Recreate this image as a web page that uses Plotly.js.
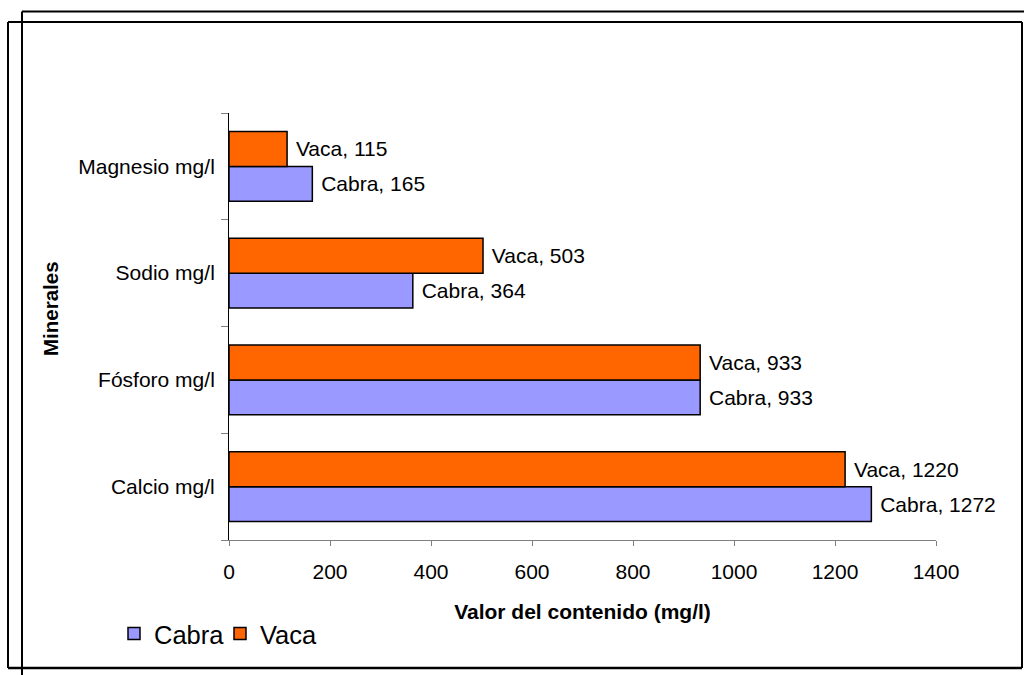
<!DOCTYPE html>
<html>
<head>
<meta charset="utf-8">
<script src="https://cdn.plot.ly/plotly-3.0.1.min.js"></script>
<style>
html,body{margin:0;padding:0;background:#fff;}
#chart{width:1024px;height:675px;}
</style>
</head>
<body>
<div id="chart"></div>
<script>
const categories = ['Calcio mg/l', 'Fósforo mg/l', 'Sodio mg/l', 'Magnesio mg/l'];
const cabra = [1272, 933, 364, 165];
const vaca = [1220, 933, 503, 115];
const seriesNames = ['Cabra', 'Vaca'];
const seriesColors = ['#9999FF', '#FF6600'];
const xTicks = [0, 200, 400, 600, 800, 1000, 1200, 1400];

const W = 1024, H = 675;
const M = {l: 229, r: 88, t: 113, b: 135};
const pw = W - M.l - M.r, ph = H - M.t - M.b;
const px = v => (v - M.l) / pw;
const py = v => (H - M.b - v) / ph;
const FONT = '"Liberation Sans", Arial, sans-serif';
const FS = 21;

function mk(name, vals, color) {
  return {
    type: 'bar', orientation: 'h', name: name,
    x: vals, y: categories,
    marker: {color: color, line: {color: '#000', width: 1.5}},
    texttemplate: '\u00a0' + name + ', %{x}',
    textposition: 'outside', constraintext: 'none', cliponaxis: false,
    textfont: {family: FONT, size: FS, color: '#000'},
    hoverinfo: 'none'
  };
}

const data = [mk(seriesNames[0], cabra, seriesColors[0]), mk(seriesNames[1], vaca, seriesColors[1])];

function line(x0, y0, x1, y1, w) {
  return {type: 'line', xref: 'paper', yref: 'paper', x0: px(x0), y0: py(y0), x1: px(x1), y1: py(y1),
    line: {color: '#000', width: w}};
}

const layout = {
  width: W, height: H,
  margin: M,
  paper_bgcolor: '#fff', plot_bgcolor: '#fff',
  font: {family: FONT, size: FS, color: '#000'},
  barmode: 'group', bargap: 0.346, bargroupgap: 0,
  showlegend: true,
  legend: {orientation: 'h', x: px(114), xanchor: 'left', y: py(634), yanchor: 'middle',
    font: {family: FONT, size: 25.5, color: '#000'}, traceorder: 'normal', bgcolor: 'rgba(0,0,0,0)',
    entrywidth: 61, entrywidthmode: 'pixels'},
  xaxis: {
    range: [0, 1400], tickvals: xTicks, ticktext: xTicks.map(String),
    showgrid: false, zeroline: false, showline: true, linecolor: '#808080', linewidth: 1,
    ticks: 'outside', ticklen: 5, tickcolor: '#808080', tickwidth: 1,
    tickfont: {family: FONT, size: FS, color: '#000'},
    ticklabelstandoff: 8,
    title: {text: 'Valor del contenido (mg/l)', font: {family: FONT, size: FS, color: '#000', weight: 'bold'}, standoff: 22},
    fixedrange: true
  },
  yaxis: {
    type: 'category', categoryorder: 'array', categoryarray: categories,
    showgrid: false, zeroline: false, showline: true, linecolor: '#000', linewidth: 1,
    ticks: 'outside', tickson: 'boundaries', ticklen: 7, tickcolor: '#808080', tickwidth: 1,
    tickfont: {family: FONT, size: FS, color: '#000'},
    ticklabelstandoff: 9,
    fixedrange: true
  },
  annotations: [{
    text: '<b>Minerales</b>', xref: 'paper', yref: 'paper', x: px(50), y: py(308),
    xanchor: 'center', yanchor: 'middle', textangle: -90, showarrow: false,
    font: {family: FONT, size: 20.5, color: '#000'}
  }],
  shapes: [
    line(22, 11.5, 1024, 11.5, 2),
    line(22, 11.5, 22, 675, 2),
    line(8, 22, 1022, 22, 2),
    line(8, 22, 8, 668, 2),
    line(1022, 22, 1022, 668, 2),
    line(8, 668, 1022, 668, 2.5)
  ]
};

Plotly.newPlot('chart', data, layout, {staticPlot: true, displayModeBar: false});
</script>
</body>
</html>
